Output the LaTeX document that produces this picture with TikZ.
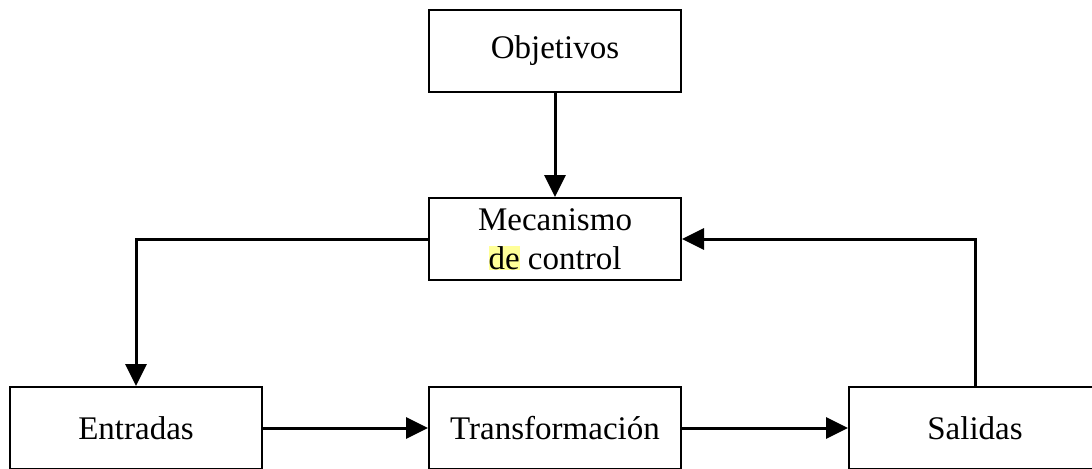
\documentclass[tikz,border=0pt]{standalone}
\usepackage{fontspec}
\setmainfont{Liberation Serif}
\usetikzlibrary{arrows.meta}
\definecolor{marca}{HTML}{FFFF99}

\begin{document}
\begin{tikzpicture}[x=0.5pt,y=-0.5pt,
    caja/.style={draw, line width=1pt, minimum width=126pt, minimum height=41pt,
      inner sep=0pt, align=center, font=\fontsize{16.5}{19.5}\selectfont},
    flecha/.style={line width=1.5pt, -{Triangle[length=11pt,width=10.5pt]}}]
    \useasboundingbox (0,0) rectangle (1092,468);

    \node[caja] (obj) at (555,51) {Objetivos};
    \node[caja] (mec) at (555,239) {Mecanismo\\ {\fboxsep=0pt\colorbox{marca}{de}} control};
    \node[caja] (ent) at (136,428) {Entradas};
    \node[caja] (tra) at (555,428) {Transformación};
    \node[caja] (sal) at (975,428) {Salidas};

    \draw[flecha] (obj) -- (mec);
    \draw[flecha] (mec.west) -- (ent.north |- mec.west) -- (ent);
    \draw[flecha] (ent) -- (tra);
    \draw[flecha] (tra) -- (sal);
    \draw[flecha] (sal) -- (sal.north |- mec.east) -- (mec.east);
\end{tikzpicture}
\end{document}
